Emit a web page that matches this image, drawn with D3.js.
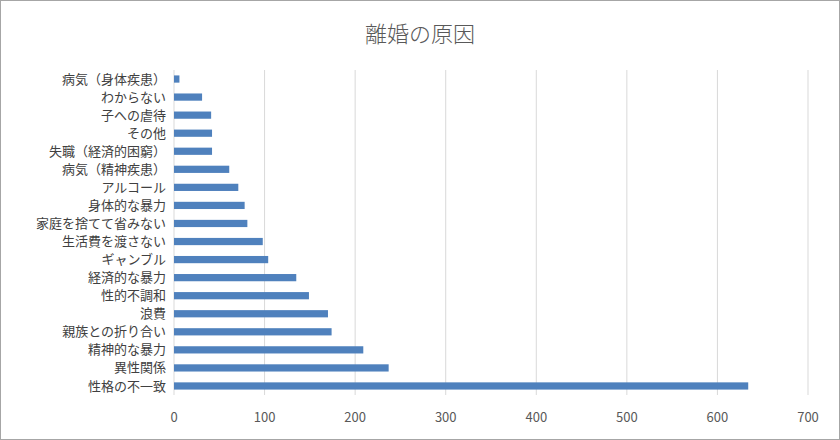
<!DOCTYPE html><html><head><meta charset="utf-8">
<script src="https://cdn.jsdelivr.net/npm/d3@7"></script>
<style>body{margin:0;background:#fff}</style></head><body>
<svg id="c" width="840" height="440"></svg>
<script>
const categories=["病気（身体疾患）","わからない","子への虐待","その他","失職（経済的困窮）","病気（精神疾患）","アルコール","身体的な暴力","家庭を捨てて省みない","生活費を渡さない","ギャンブル","経済的な暴力","性的不調和","浪費","親族との折り合い","精神的な暴力","異性関係","性格の不一致"];
const values=[6,31,41,42,42,61,71,78,81,98,104,135,149,170,174,209,237,634];
const ticks=[0,100,200,300,400,500,600,700];
const svg=d3.select("#c");
svg.append("rect").attr("x",0.5).attr("y",0.5).attr("width",839).attr("height",439).attr("fill","#fff").attr("stroke","#a6a6a6");
svg.append("text").attr("x",420).attr("y",42).attr("text-anchor","middle").attr("font-family","Noto Sans CJK JP").attr("font-weight",300).attr("font-size",22).attr("fill","#595959").text("離婚の原因");
const x=d3.scaleLinear().domain([0,700]).range([174,808]);
const y=d3.scaleBand().domain(categories).range([70,395]).paddingInner(0.6).paddingOuter(0.3);
svg.append("g").selectAll("line").data(ticks).join("line").attr("x1",d=>x(d)).attr("x2",d=>x(d)).attr("y1",70).attr("y2",395).attr("stroke","#d9d9d9");
svg.append("g").selectAll("rect").data(values).join("rect").attr("x",x(0)).attr("y",(d,i)=>y(categories[i])).attr("width",d=>x(d)-x(0)).attr("height",y.bandwidth()).attr("fill","#4f81bd");
svg.append("g").selectAll("text").data(categories).join("text").attr("x",166).attr("y",d=>y(d)+y.bandwidth()/2).attr("dy","0.35em").attr("text-anchor","end").attr("font-family","Noto Sans CJK JP").attr("font-size",13).attr("fill","#404040").text(d=>d);
svg.append("g").selectAll("text").data(ticks).join("text").attr("x",d=>x(d)).attr("y",422).attr("text-anchor","middle").attr("font-family","Noto Sans CJK JP").attr("font-size",13).attr("fill","#595959").text(d=>d);
</script></body></html>
